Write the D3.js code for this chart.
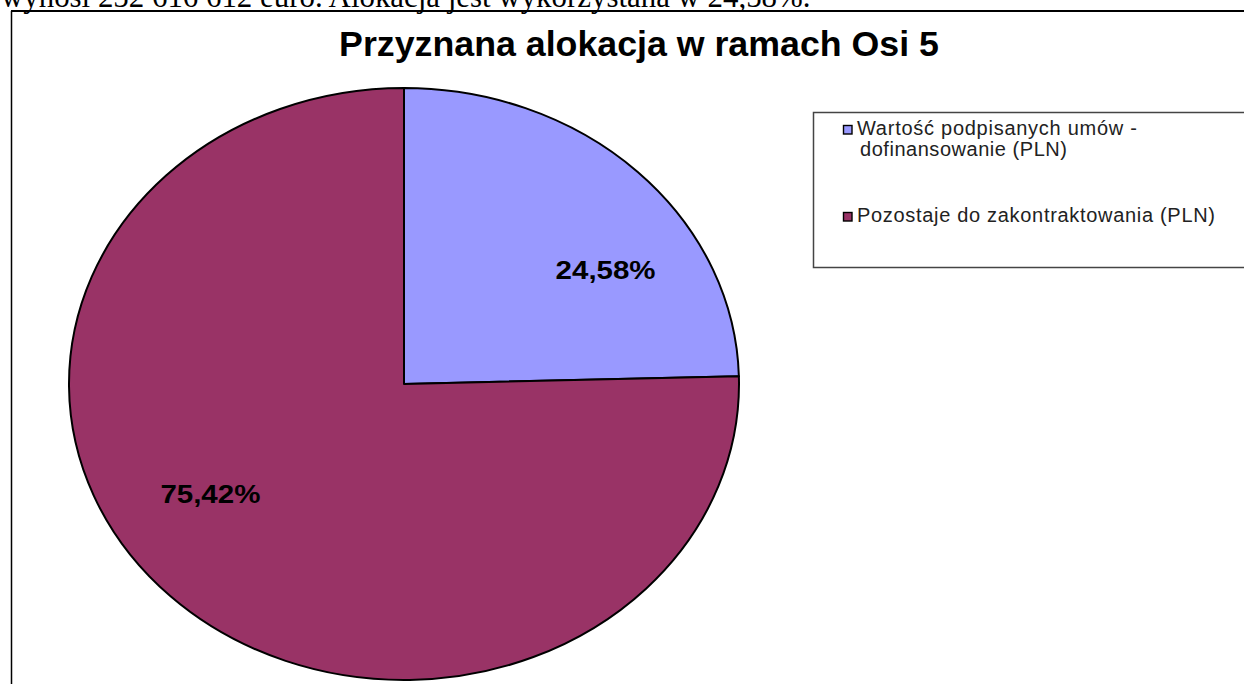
<!DOCTYPE html>
<html><head><meta charset="utf-8">
<script src="https://cdn.jsdelivr.net/npm/d3@7"></script>
<style>html,body{margin:0;padding:0;background:#fff;overflow:hidden}</style>
</head><body>
<svg id="c" width="1244" height="684"></svg>
<script>
const categories = ["Wartość podpisanych umów - dofinansowanie (PLN)", "Pozostaje do zakontraktowania (PLN)"];
const legendLines = [["Wartość podpisanych umów -", "dofinansowanie (PLN)"], ["Pozostaje do zakontraktowania (PLN)"]];
const values = [24.58, 75.42];
const valueLabels = ["24,58%", "75,42%"];
const colors = ["#9999FF", "#993366"];
const title = "Przyznana alokacja w ramach Osi 5";
const pageText = "wynosi 252 616 612 euro. Alokacja jest wykorzystana w 24,58%.";

const svg = d3.select("#c");
const W = 1244, H = 684;

function fitSize(sel, target) {
  const len = sel.node().getComputedTextLength();
  const fs = parseFloat(sel.attr("font-size"));
  sel.attr("font-size", fs * target / len);
}

// page text (cut off at top, as in the source document)
const pt = svg.append("text").attr("x", 1).attr("y", 7)
  .attr("font-family", "Liberation Serif, Times New Roman, serif").attr("font-size", 20)
  .attr("fill", "#000").text(pageText);
fitSize(pt, 810);

// chart frame
svg.append("line").attr("x1", 11).attr("x2", W).attr("y1", 11).attr("y2", 11)
  .attr("stroke", "#000").attr("stroke-width", 2);
svg.append("line").attr("x1", 11.5).attr("x2", 11.5).attr("y1", 11).attr("y2", H)
  .attr("stroke", "#000").attr("stroke-width", 1.5);

// title
const tt = svg.append("text").attr("x", 639).attr("y", 56).attr("text-anchor", "middle")
  .attr("font-family", "Liberation Sans, Arial, sans-serif").attr("font-weight", "bold")
  .attr("font-size", 28).attr("fill", "#000").text(title);
fitSize(tt, 600);

// pie (elliptical)
const cx = 404, cy = 384, rx = 335, ry = 296;
const pie = d3.pie().sort(null).value(d => d)(values);
const arc = d3.arc().innerRadius(0).outerRadius(rx);
const g = svg.append("g").attr("transform", `translate(${cx},${cy}) scale(1,${ry / rx})`);
g.selectAll("path").data(pie).join("path")
  .attr("d", arc).attr("fill", (d, i) => colors[i])
  .attr("stroke", "#000").attr("stroke-width", 2)
  .attr("vector-effect", "non-scaling-stroke").attr("stroke-linejoin", "round");

// labels
const labelR = 0.7, angShift = 0.23;
svg.selectAll("text.lbl").data(pie).join("text").attr("class", "lbl")
  .each(function (d, i) {
    const a = (d.startAngle + d.endAngle) / 2 + angShift;
    const x = cx + labelR * rx * Math.sin(a);
    const y = cy - labelR * ry * Math.cos(a);
    d3.select(this).attr("x", x + 4).attr("y", y + 7).attr("text-anchor", "middle")
      .attr("font-family", "Liberation Sans, Arial, sans-serif").attr("font-weight", "bold")
      .attr("font-size", 26).attr("fill", "#000")
      .attr("textLength", 100).attr("lengthAdjust", "spacingAndGlyphs")
      .text(valueLabels[i]);
  });

// legend
const lg = svg.append("g");
lg.append("rect").attr("x", 813.5).attr("y", 112.5).attr("width", 460).attr("height", 155)
  .attr("fill", "#fff").attr("stroke", "#444").attr("stroke-width", 1.5);
const itemY = [135, 222];
const lineW = [[280, 207], [358]];
legendLines.forEach((lines, i) => {
  lg.append("rect").attr("x", 843.5).attr("y", itemY[i] - 9.5).attr("width", 8.5).attr("height", 8.5)
    .attr("fill", colors[i]).attr("stroke", "#000").attr("stroke-width", 1.4);
  lines.forEach((ln, j) => {
    lg.append("text").attr("x", j === 0 ? 857 : 860).attr("y", itemY[i] + j * 21)
      .attr("font-family", "Liberation Sans, Arial, sans-serif").attr("font-size", 20)
      .attr("fill", "#222").attr("textLength", lineW[i][j]).attr("lengthAdjust", "spacing")
      .text(ln);
  });
});
</script>
</body></html>
